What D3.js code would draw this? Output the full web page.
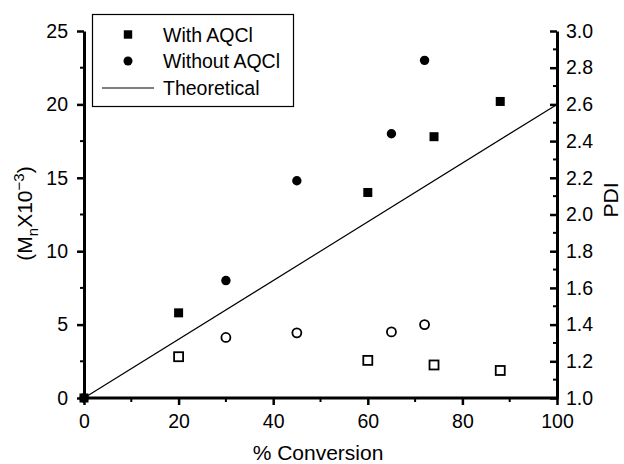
<!DOCTYPE html>
<html><head><meta charset="utf-8">
<script src="https://cdn.jsdelivr.net/npm/d3@7"></script>
<style>body{margin:0;background:#fff}svg{display:block;font-family:"Liberation Sans",Arial,sans-serif}</style>
</head><body><svg id="c" width="624" height="464"></svg>
<script>
const withConv = [0, 20, 60, 74, 88];
const withMn = [0, 5.8, 14, 17.8, 20.2];
const withPdiConv = [20, 60, 74, 88];
const withPdi = [1.225, 1.205, 1.18, 1.15];
const withoutConv = [0, 30, 45, 65, 72];
const withoutMn = [0, 8, 14.8, 18, 23];
const withoutPdiConv = [30, 45, 65, 72];
const withoutPdi = [1.33, 1.355, 1.36, 1.40];
const theoConv = [0, 100];
const theoMn = [0, 20];
const xTicks = [0, 20, 40, 60, 80, 100];
const yTicks = [0, 5, 10, 15, 20, 25];
const pdiTicks = [1.0, 1.2, 1.4, 1.6, 1.8, 2.0, 2.2, 2.4, 2.6, 2.8, 3.0];
const legendLabels = ["With AQCl", "Without AQCl", "Theoretical"];

const svg = d3.select("#c");
const L = 84, R = 557, T = 31, B = 398;
const x = d3.scaleLinear().domain([0, 100]).range([L, R]);
const y = d3.scaleLinear().domain([0, 25]).range([B, T]);
const y2 = d3.scaleLinear().domain([1.0, 3.0]).range([B, T]);
const fs = 19.5, tfs = 21;

// minor ticks
const g = svg.append("g");
g.selectAll(".xm").data(d3.range(10, 100, 20)).join("line")
  .attr("x1", d => x(d)).attr("x2", d => x(d)).attr("y1", B).attr("y2", B + 4)
  .attr("stroke", "#000").attr("stroke-width", 2);
g.selectAll(".ym").data(d3.range(2.5, 25, 5)).join("line")
  .attr("x1", L).attr("x2", L - 4).attr("y1", d => y(d)).attr("y2", d => y(d))
  .attr("stroke", "#000").attr("stroke-width", 2);
g.selectAll(".pm").data(d3.range(1.1, 3.0, 0.2)).join("line")
  .attr("x1", R).attr("x2", R - 4).attr("y1", d => y2(d)).attr("y2", d => y2(d))
  .attr("stroke", "#000").attr("stroke-width", 2);

// axes
const xa = svg.append("g").attr("transform", `translate(0,${B})`)
  .call(d3.axisBottom(x).tickValues(xTicks).tickSize(7).tickPadding(9).tickSizeOuter(0));
const ya = svg.append("g").attr("transform", `translate(${L},0)`)
  .call(d3.axisLeft(y).tickValues(yTicks).tickSize(7).tickPadding(9).tickSizeOuter(0));
const pa = svg.append("g").attr("transform", `translate(${R},0)`)
  .call(d3.axisRight(y2).tickValues(pdiTicks).tickFormat(d3.format(".1f")).tickSize(-7).tickPadding(9).tickSizeOuter(0));
[xa, ya, pa].forEach(a => {
  a.attr("font-size", fs).attr("font-family", "Liberation Sans, Arial, sans-serif");
  a.select(".domain").attr("stroke-width", 3).attr("stroke", "#000");
  a.selectAll(".tick line").attr("stroke-width", 2.5).attr("stroke", "#000");
  a.selectAll("text").attr("fill", "#000");
});
xa.select(".domain").attr("d", `M${L - 1.5},0H${R + 1.5}`);

// theoretical line
svg.append("line").attr("x1", x(theoConv[0])).attr("y1", y(theoMn[0]))
  .attr("x2", x(theoConv[1])).attr("y2", y(theoMn[1]))
  .attr("stroke", "#000").attr("stroke-width", 1.2);

const sq = 9, cr = 4.7;
svg.selectAll(".fs").data(withConv.map((c, i) => [c, withMn[i]])).join("rect")
  .attr("x", d => x(d[0]) - sq / 2).attr("y", d => y(d[1]) - sq / 2)
  .attr("width", sq).attr("height", sq).attr("fill", "#000");
svg.selectAll(".fc").data(withoutConv.map((c, i) => [c, withoutMn[i]])).join("circle")
  .attr("cx", d => x(d[0])).attr("cy", d => y(d[1])).attr("r", cr).attr("fill", "#000");
svg.selectAll(".os").data(withPdiConv.map((c, i) => [c, withPdi[i]])).join("rect")
  .attr("x", d => x(d[0]) - 4.5).attr("y", d => y2(d[1]) - 4.5)
  .attr("width", 9).attr("height", 9).attr("fill", "#fff").attr("stroke", "#000").attr("stroke-width", 1.8);
svg.selectAll(".oc").data(withoutPdiConv.map((c, i) => [c, withoutPdi[i]])).join("circle")
  .attr("cx", d => x(d[0])).attr("cy", d => y2(d[1])).attr("r", 4.5)
  .attr("fill", "#fff").attr("stroke", "#000").attr("stroke-width", 1.8);

// legend
const lg = svg.append("g");
lg.append("rect").attr("x", 92.5).attr("y", 14.5).attr("width", 201).attr("height", 92)
  .attr("fill", "#fff").attr("stroke", "#000").attr("stroke-width", 1.2);
const rows = [34.5, 61, 88];
lg.append("rect").attr("x", 128 - 4.2).attr("y", rows[0] - 4.2).attr("width", 8.4).attr("height", 8.4).attr("fill", "#000");
lg.append("circle").attr("cx", 128).attr("cy", rows[1]).attr("r", 4.5).attr("fill", "#000");
lg.append("line").attr("x1", 102).attr("x2", 154).attr("y1", rows[2]).attr("y2", rows[2]).attr("stroke", "#000").attr("stroke-width", 1.2);
lg.selectAll("text").data(legendLabels).join("text")
  .attr("x", 163).attr("y", (d, i) => rows[i] + 7).attr("font-size", fs).text(d => d);

// axis titles
svg.append("text").attr("x", 318).attr("y", 460).attr("text-anchor", "middle").attr("font-size", tfs).text("% Conversion");
const yl = svg.append("text").attr("transform", `translate(31.5,213.5) rotate(-90)`)
  .attr("text-anchor", "middle").attr("font-size", tfs);
yl.append("tspan").text("(M");
yl.append("tspan").attr("dy", 6).attr("font-size", 15).text("n");
yl.append("tspan").attr("dy", -6).text("X10");
yl.append("tspan").attr("dy", -8).attr("font-size", 15).text("\u22123");
yl.append("tspan").attr("dy", 8).text(")");
svg.append("text").attr("transform", `translate(618,200) rotate(-90)`)
  .attr("text-anchor", "middle").attr("font-size", tfs).text("PDI");
</script></body></html>
